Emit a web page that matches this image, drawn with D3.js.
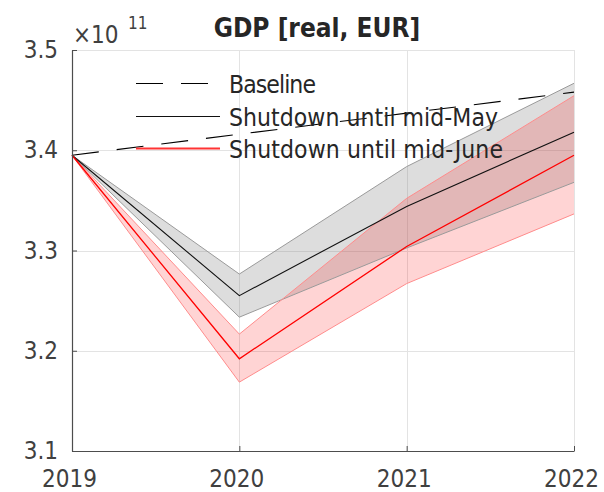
<!DOCTYPE html>
<html>
<head>
<meta charset="utf-8">
<script src="https://cdn.jsdelivr.net/npm/d3@7"></script>
<style>
  html, body { margin: 0; padding: 0; background: #fff; }
  svg { display: block; }
  text { font-family: "DejaVu Sans Condensed", "DejaVu Sans", sans-serif; font-stretch: condensed; }
</style>
</head>
<body>
<svg id="chart" width="604" height="492"></svg>
<script>
// ---- data (values in units of 1e11 EUR) ----
const years = [2019, 2020, 2021, 2022];
const baseline = [3.395, 3.416, 3.437, 3.458];
const mayMid = [3.395, 3.255, 3.344, 3.418];
const mayLow = [3.395, 3.2335, 3.3025, 3.368];
const mayHigh = [3.395, 3.2765, 3.3837, 3.4668];
const juneMid = [3.395, 3.192, 3.304, 3.395];
const juneLow = [3.395, 3.1687, 3.267, 3.3365];
const juneHigh = [3.395, 3.2166, 3.352, 3.4544];
const yTicks = [3.1, 3.2, 3.3, 3.4, 3.5];
const xTicks = [2019, 2020, 2021, 2022];
const title = "GDP [real, EUR]";
const legendLabels = ["Baseline", "Shutdown until mid-May", "Shutdown until mid-June"];

// ---- layout ----
const svg = d3.select("#chart");
const pL = 72, pR = 574, pT = 50, pB = 451;
const x = d3.scaleLinear().domain([2019, 2022]).range([pL, pR]);
const y = d3.scaleLinear().domain([3.1, 3.5]).range([pB, pT]);

// grid
const grid = svg.append("g").attr("stroke", "#e3e3e3").attr("stroke-width", 1);
grid.selectAll("line.v").data(xTicks.slice(1)).join("line")
  .attr("x1", d => Math.round(x(d)) + 0.5).attr("x2", d => Math.round(x(d)) + 0.5)
  .attr("y1", pT).attr("y2", pB);
grid.selectAll("line.h").data(yTicks.slice(1)).join("line")
  .attr("x1", pL).attr("x2", pR)
  .attr("y1", d => Math.round(y(d)) + 0.5).attr("y2", d => Math.round(y(d)) + 0.5);

// bands
const band = (lo, hi) => d3.area()
  .x((d, i) => x(years[i]))
  .y0((d, i) => y(lo[i]))
  .y1((d, i) => y(hi[i]))(years);
const line = (vals) => d3.line().x((d, i) => x(years[i])).y((d, i) => y(vals[i]))(years);

svg.append("path").attr("d", band(mayLow, mayHigh))
  .attr("fill", "rgb(128,128,128)").attr("fill-opacity", 0.27);
svg.append("path").attr("d", band(juneLow, juneHigh))
  .attr("fill", "rgb(255,0,0)").attr("fill-opacity", 0.17);

// band edges
[[mayLow, "#9a9a9a"], [mayHigh, "#9a9a9a"], [juneLow, "#ff8c8c"], [juneHigh, "#ff8c8c"]].forEach(([v, c]) => {
  svg.append("path").attr("d", line(v)).attr("fill", "none").attr("stroke", c).attr("stroke-width", 1);
});

// series lines
svg.append("path").attr("d", line(baseline)).attr("fill", "none")
  .attr("stroke", "#000").attr("stroke-width", 1.1).attr("stroke-dasharray", "27,18");
svg.append("path").attr("d", line(mayMid)).attr("fill", "none")
  .attr("stroke", "#111").attr("stroke-width", 1.1);
svg.append("path").attr("d", line(juneMid)).attr("fill", "none")
  .attr("stroke", "#ff0000").attr("stroke-width", 1.3);

// axes
const axisColor = "#4d4d4d", textColor = "#404040";
const yAxis = d3.axisLeft(y).tickValues(yTicks).tickFormat(d3.format(".1f"))
  .tickSizeInner(-5).tickSizeOuter(0).tickPadding(14);
const xAxis = d3.axisBottom(x).tickValues(xTicks).tickFormat(d3.format("d"))
  .tickSizeInner(-5).tickSizeOuter(0).tickPadding(19);

const gy = svg.append("g").attr("transform", `translate(${pL},0)`).call(yAxis);
const gx = svg.append("g").attr("transform", `translate(0,${pB})`).call(xAxis);
[gx, gy].forEach(g => {
  g.select(".domain").attr("stroke", axisColor).attr("stroke-width", 1.2);
  g.selectAll(".tick line").attr("stroke", axisColor).attr("stroke-width", 1);
  g.selectAll(".tick text").attr("fill", textColor).style("font-size", "24px")
    .style("font-family", '"DejaVu Sans Condensed", "DejaVu Sans", sans-serif');
});
gx.selectAll(".tick text").attr("dx", -3);

// exponent label
const ex = svg.append("text").attr("x", 73).attr("y", 43).attr("fill", textColor).style("font-size", "24px");
ex.append("tspan").text("\u00d710");
ex.append("tspan").attr("x", 128).attr("y", 29).style("font-size", "17px").text("11");

// title
svg.append("text").attr("x", 317).attr("y", 37).attr("text-anchor", "middle")
  .attr("fill", "#262626").style("font-size", "26px").style("font-weight", "bold").text(title);

// legend
const legY = [83.5, 116.5, 148.5];
const legWidths = [87, 269, 274];
const legStyles = [
  {stroke: "#000", dash: "27,18", w: 1.1},
  {stroke: "#111", dash: null, w: 1.1},
  {stroke: "#ff3333", dash: null, w: 2.2}
];
legendLabels.forEach((lab, i) => {
  svg.append("line").attr("x1", 136).attr("x2", 220).attr("y1", legY[i]).attr("y2", legY[i])
    .attr("stroke", legStyles[i].stroke).attr("stroke-width", legStyles[i].w)
    .attr("stroke-dasharray", legStyles[i].dash);
  svg.append("text").attr("x", 229).attr("y", legY[i] + 9.5).attr("fill", "#262626")
    .attr("textLength", legWidths[i]).attr("lengthAdjust", "spacing")
    .style("font-size", "24.5px").text(lab);
});
</script>
</body>
</html>
